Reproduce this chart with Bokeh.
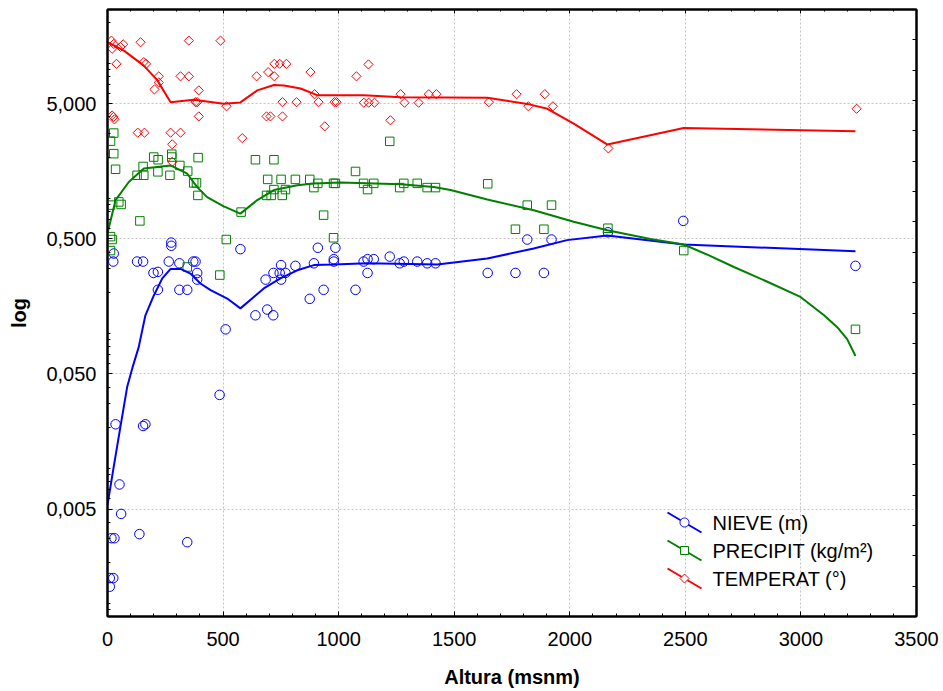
import numpy as np
from bokeh.plotting import figure
from bokeh.models import (Range1d, FixedTicker, CustomJSTickFormatter, LinearAxis,
                          LinearScale, PolyAnnotation, Label, CustomLabelingPolicy)
from bokeh.embed import file_html
from bokeh.resources import INLINE

# ---- station data: altitude (m a.s.l.) and measured value ----
nieve_alt = [10, 10, 17, 25, 25, 27, 30, 35, 52, 59, 128, 138, 154, 154, 164, 199, 218, 218,
             265, 276, 276, 311, 311, 345, 345, 371, 381, 388, 388, 485, 511, 575, 640, 684,
             691, 717, 718, 745, 751, 751, 770, 813, 875, 893, 910, 935, 979, 979, 986, 1073,
             1108, 1125, 1125, 1152, 1221, 1264, 1282, 1340, 1383, 1419, 1645, 1765, 1816,
             1888, 1921, 2165, 2491, 3236]
nieve_val = [0.00154, 0.00133, 0.00304, 0.34, 0.00154, 0.39, 0.00304, 0.0212, 0.0076, 0.0046,
             0.34, 0.00326, 0.34, 0.0206, 0.0212, 0.28, 0.285, 0.21, 0.34, 0.47, 0.445, 0.33,
             0.21, 0.21, 0.00284, 0.34, 0.34, 0.28, 0.25, 0.035, 0.107, 0.42, 0.136, 0.25,
             0.15, 0.136, 0.28, 0.28, 0.32, 0.25, 0.28, 0.316, 0.18, 0.33, 0.43, 0.21, 0.354,
             0.34, 0.43, 0.21, 0.34, 0.354, 0.28, 0.354, 0.37, 0.33, 0.34, 0.34, 0.33, 0.33,
             0.28, 0.28, 0.495, 0.28, 0.495, 0.56, 0.68, 0.316]

precip_alt = [13, 13, 13, 13, 20, 27, 27, 35, 49, 59, 128, 140, 154, 157, 200, 218, 219, 270,
              278, 278, 313, 345, 347, 373, 385, 391, 392, 486, 514, 578, 640, 688, 693, 708,
              720, 720, 751, 756, 770, 813, 875, 893, 910, 935, 978, 978, 986, 1073, 1108,
              1125, 1152, 1221, 1264, 1282, 1340, 1383, 1419, 1645, 1765, 1816, 1888, 1921,
              2165, 2493, 3236]
precip_val = [2.65, 0.89, 0.52, 0.41, 0.495, 3.04, 2.14, 1.64, 0.94, 0.90, 1.48, 0.68, 1.72,
              1.48, 2.02, 1.57, 1.93, 1.48, 2.12, 2.02, 1.75, 0.31, 1.59, 1.30, 1.30, 1.05,
              2.0, 0.27, 0.495, 0.79, 1.93, 1.05, 1.38, 1.05, 1.93, 1.16, 1.38, 1.05, 1.16,
              1.38, 1.38, 1.20, 1.29, 0.75, 0.51, 1.29, 1.29, 1.58, 1.29, 1.16, 1.29, 2.64,
              1.20, 1.29, 1.29, 1.20, 1.20, 1.28, 0.59, 0.89, 0.59, 0.89, 0.60, 0.41, 0.107]

temp_alt = [17, 20, 20, 26, 27, 30, 39, 56, 68, 131, 143, 157, 160, 167, 203, 222, 222, 273,
            280, 280, 316, 316, 352, 352, 381, 388, 395, 395, 489, 515, 583, 645, 688, 695,
            705, 722, 722, 745, 757, 757, 774, 818, 878, 896, 913, 940, 982, 991, 1077, 1109,
            1129, 1130, 1155, 1224, 1268, 1285, 1346, 1390, 1423, 1650, 1770, 1821, 1892,
            1927, 2167, 3241]
temp_val = [14.7, 12.8, 4.1, 4.0, 13.9, 3.84, 9.9, 13.2, 13.8, 3.06, 14.3, 10.2, 3.06, 9.9,
            6.4, 8.0, 7.2, 3.06, 2.51, 1.86, 8.0, 3.06, 8.0, 14.7, 5.15, 5.15, 6.3, 4.04,
            14.7, 4.8, 2.79, 8.0, 4.04, 8.6, 4.04, 9.9, 8.0, 9.9, 4.04, 5.15, 9.9, 5.15, 8.6,
            5.9, 5.15, 3.41, 5.15, 5.15, 8.0, 5.1, 9.8, 5.1, 5.1, 3.78, 5.9, 5.1, 5.1, 5.9,
            5.9, 5.15, 5.9, 4.8, 5.9, 4.8, 2.34, 4.6]

# ---- smoothed trend curves ----
nieve_fit_alt = [0, 27, 56, 85, 107, 135, 164, 200, 237, 273, 316, 359, 402, 446, 518, 575,
                 633, 676, 748, 821, 893, 979, 1124, 1427, 1643, 1844, 1988, 2162, 2493, 3236]
nieve_fit_val = [0.00536, 0.0103, 0.0204, 0.040, 0.055, 0.079, 0.136, 0.19, 0.255, 0.30,
                 0.30, 0.277, 0.234, 0.209, 0.181, 0.153, 0.186, 0.215, 0.255, 0.293, 0.32,
                 0.323, 0.33, 0.323, 0.358, 0.425, 0.49, 0.53, 0.455, 0.405]

precip_fit_alt = [0, 35, 92, 157, 273, 345, 388, 431, 503, 575, 648, 720, 821, 893, 1008,
                  1268, 1412, 1484, 1643, 1844, 2017, 2162, 2349, 2493, 2600, 2710, 2850,
                  2998, 3100, 3157, 3200, 3236]
precip_fit_val = [0.55, 0.97, 1.32, 1.66, 1.75, 1.52, 1.21, 1.02, 0.87, 0.77, 0.97, 1.15,
                  1.25, 1.285, 1.31, 1.27, 1.21, 1.15, 0.98, 0.815, 0.67, 0.58, 0.50, 0.455,
                  0.379, 0.31, 0.243, 0.186, 0.136, 0.111, 0.0906, 0.068]

temp_fit_alt = [0, 71, 157, 215, 273, 373, 503, 575, 648, 720, 763, 835, 907, 979, 1109,
                1268, 1643, 1816, 1903, 2017, 2163, 2493, 3236]
temp_fit_val = [14.3, 12.4, 9.6, 7.5, 5.15, 5.37, 5.02, 5.13, 6.3, 6.9, 6.85, 6.5, 5.8, 5.8,
                5.8, 5.6, 5.55, 5.0, 4.6, 3.57, 2.5, 3.31, 3.13]

x_ticks = [0, 500, 1000, 1500, 2000, 2500, 3000, 3500]
y_ticks = [0.005, 0.05, 0.5, 5]
series_names = ["NIEVE (m)", "PRECIPIT (kg/m\u00b2)", "TEMPERAT (\u00b0)"]

BLUE, GREEN, RED = "#0000ff", "#008000", "#ff0000"
FONT = "Liberation Sans"

p = figure(width=943, height=691, y_axis_type="log",
           x_range=Range1d(0, 3500), y_range=Range1d(0.0008, 25),
           output_backend="svg", toolbar_location=None,
           min_border_left=107, min_border_right=27, min_border_top=9, min_border_bottom=75)
p.background_fill_color = "white"
p.border_fill_color = "white"
p.outline_line_color = "black"
p.outline_line_width = 2

# log minor ticks at 1..9 x 10^k
y_minor = [m * 10.0 ** k for k in range(-4, 2) for m in range(1, 10)]
y_minor = [v for v in y_minor if 0.0008 <= v <= 25]

xa = p.xaxis[0]
xa.ticker = FixedTicker(ticks=x_ticks, minor_ticks=list(range(0, 3501, 100)))
ya = p.yaxis[0]
ya.ticker = FixedTicker(ticks=y_ticks, minor_ticks=y_minor)
ya.formatter = CustomJSTickFormatter(code="return tick.toFixed(3).replace('.', ',');")

for ax in (xa, ya):
    ax.axis_line_width = 2
    ax.axis_line_color = "black"
    ax.major_tick_in = 5
    ax.major_tick_out = 0
    ax.minor_tick_in = 3
    ax.minor_tick_out = 0
    ax.major_tick_line_color = "black"
    ax.minor_tick_line_color = "black"
    ax.major_label_text_font = FONT
    ax.major_label_text_font_size = "20px"
    ax.major_label_text_color = "black"
    ax.axis_label_text_font = FONT
    ax.axis_label_text_font_size = "20px"
    ax.axis_label_text_font_style = "bold"
    ax.axis_label_text_color = "black"

xa.axis_label = "Altura (msnm)"
xa.major_label_standoff = 15
xa.axis_label_standoff = 17
ya.axis_label = "log"
ya.major_label_standoff = 11
ya.axis_label_standoff = 13

# tick marks only (no labels) on the top and right sides of the frame
hide_labels = CustomLabelingPolicy(code="""
try { for (let i = 0; i < indices.size; i++) { indices.unset(i); } } catch (e) {}
return indices;
""")

top = LinearAxis(ticker=FixedTicker(ticks=x_ticks, minor_ticks=list(range(0, 3501, 100))),
                 major_label_text_font_size="0px", major_label_standoff=0,
                 major_label_policy=hide_labels,
                 major_tick_in=4, major_tick_out=0, minor_tick_in=2, minor_tick_out=0,
                 axis_line_width=2, axis_line_color="black")
p.add_layout(top, "above")

p.extra_y_ranges = {"side": Range1d(0, 20)}
p.extra_y_scales = {"side": LinearScale()}
right = LinearAxis(y_range_name="side", ticker=FixedTicker(ticks=list(range(0, 21))),
                   major_label_text_font_size="0px", major_label_standoff=0,
                   major_label_policy=hide_labels,
                   major_tick_in=4, major_tick_out=0, minor_tick_in=0, minor_tick_out=0,
                   axis_line_width=2, axis_line_color="black")
p.add_layout(right, "right")

for g in (p.xgrid[0], p.ygrid[0]):
    g.grid_line_color = "#c4c4c4"
    g.grid_line_dash = "2 2"
    g.grid_line_width = 1
p.xgrid[0].ticker = FixedTicker(ticks=x_ticks[1:-1])
p.ygrid[0].ticker = FixedTicker(ticks=y_ticks)

# points
p.scatter(nieve_alt, nieve_val, marker="circle", size=9.5, line_color=BLUE,
          line_width=1, fill_color=None)
p.scatter(precip_alt, precip_val, marker="square", size=8.5, line_color=GREEN,
          line_width=1, fill_color=None)
p.scatter(temp_alt, temp_val, marker="square", angle=np.pi / 4, size=6.5, line_color=RED,
          line_width=1, fill_color=None)

# trend curves
p.line(nieve_fit_alt, nieve_fit_val, line_color=BLUE, line_width=2)
p.line(precip_fit_alt, precip_fit_val, line_color=GREEN, line_width=2)
p.line(temp_fit_alt, temp_fit_val, line_color=RED, line_width=2)

# legend drawn in screen space (frame-relative, y up)
leg_x = 577
leg_rows = [94, 66, 38]
colors = [BLUE, GREEN, RED]
for i, (name, col, ry) in enumerate(zip(series_names, colors, leg_rows)):
    p.add_layout(PolyAnnotation(xs=[leg_x - 17, leg_x + 17], ys=[ry + 10, ry - 10],
                                xs_units="screen", ys_units="screen",
                                line_color=col, line_alpha=1, line_width=2,
                                fill_color=None))
    if i == 0:
        t = np.linspace(0, 2 * np.pi, 24, endpoint=False)
        mx, my = leg_x + 4.5 * np.cos(t), ry + 4.5 * np.sin(t)
    elif i == 1:
        mx, my = np.array([-4, 4, 4, -4]) + leg_x, np.array([-4, -4, 4, 4]) + ry
    else:
        mx, my = np.array([0, 4.5, 0, -4.5]) + leg_x, np.array([-4.5, 0, 4.5, 0]) + ry
    p.add_layout(PolyAnnotation(xs=list(mx), ys=list(my), xs_units="screen",
                                ys_units="screen", line_color=col, line_alpha=1,
                                line_width=1, fill_color="white", fill_alpha=1))
    p.add_layout(Label(x=leg_x + 28, y=ry, x_units="screen", y_units="screen", text=name,
                       text_font=FONT, text_font_size="20px", text_color="black",
                       text_baseline="middle", text_align="left"))

open("out.html", "w").write(file_html(p, INLINE))
